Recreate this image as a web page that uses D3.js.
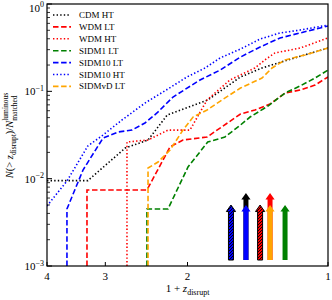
<!DOCTYPE html>
<meta charset="utf-8">
<script src="https://d3js.org/d3.v7.min.js"></script>
<style>
  body { margin: 0; background: #fff; }
  text { font-family: "Liberation Serif", "DejaVu Serif", serif; }
</style>
<body>
<div id="chart"></div>
<script>
// values: x is 1+z_disrupt, y is the cumulative fraction
var zCDMHT = [4, 3.27, 2.72, 2.43, 2.21, 1.81, 1.54, 1.385, 1.218, 1.0];
var nCDMHT = [0.0095, 0.0095, 0.0224, 0.0277, 0.0536, 0.0797, 0.146, 0.185, 0.229, 0.313];

var zWDMLT = [3.284, 3.284, 2.443, 2.18, 2.045, 1.816, 1.54, 1.434, 1.331, 1.236, 1.148, 1.066, 1.0];
var nWDMLT = [0.001, 0.00741, 0.00741, 0.0231, 0.0277, 0.0300, 0.0549, 0.0611, 0.0716, 0.0957, 0.1035, 0.118, 0.146];

var zWDMHT = [2.696, 2.696, 2.43, 2.202, 1.976, 1.816, 1.622, 1.434, 1.365, 1.299, 1.148, 1.0];
var nWDMHT = [0.001, 0.0263, 0.0277, 0.036, 0.036, 0.0797, 0.135, 0.185, 0.229, 0.275, 0.313, 0.408];

var zSIDM1LT = [2.443, 2.443, 2.202, 1.995, 1.81, 1.663, 1.54, 1.469, 1.345, 1.236, 1.148, 1.066, 1.0];
var nSIDM1LT = [0.001, 0.0045, 0.0045, 0.0136, 0.0263, 0.0300, 0.0411, 0.0508, 0.0679, 0.0957, 0.115, 0.142, 0.175];

var zSIDM10LT = [3.625, 3.625, 3.349, 3.034, 2.818, 2.630, 2.467, 2.325, 2.148, 1.880, 1.703, 1.54, 1.398, 1.267, 1.148, 1.0];
var nSIDM10LT = [0.001, 0.0045, 0.01256, 0.0292, 0.0342, 0.036, 0.0434, 0.0565, 0.0861, 0.135, 0.175, 0.247, 0.322, 0.408, 0.466, 0.560];

var zSIDM10HT = [4, 3.625, 3.27, 3.034, 2.763, 2.467, 2.257, 2.005, 1.834, 1.703, 1.54, 1.398, 1.267, 1.148, 1.0];
var nSIDM10HT = [0.00487, 0.0094, 0.0237, 0.0316, 0.047, 0.0734, 0.0982, 0.146, 0.185, 0.241, 0.305, 0.397, 0.466, 0.503, 0.574];

var zSIDMvDLT = [2.43, 2.43, 2.313, 2.18, 2.045, 1.946, 1.816, 1.687, 1.54, 1.385, 1.318, 1.236, 1.120, 1.0];
var nSIDMvDLT = [0.001, 0.01324, 0.0155, 0.0213, 0.036, 0.0508, 0.0611, 0.0797, 0.109, 0.142, 0.185, 0.229, 0.261, 0.313];

var seriesNames = ["CDM HT", "WDM LT", "WDM HT", "SIDM1 LT", "SIDM10 LT", "SIDM10 HT", "SIDMvD LT"];
var seriesZ = [zCDMHT, zWDMLT, zWDMHT, zSIDM1LT, zSIDM10LT, zSIDM10HT, zSIDMvDLT];
var seriesN = [nCDMHT, nWDMLT, nWDMHT, nSIDM1LT, nSIDM10LT, nSIDM10HT, nSIDMvDLT];
var seriesColor = ["#000000", "#ff0000", "#ff0000", "#008000", "#0000ff", "#0000ff", "#ffa500"];
var seriesDotted = [true, false, true, false, false, true, false];

// arrows in the lower right (drawn back to front)
var arrowZ = [1.614, 1.499, 1.499, 1.398, 1.331, 1.331, 1.236];
var arrowTop = [0.00499, 0.00686, 0.00499, 0.00499, 0.00686, 0.00499, 0.00499];
var arrowBottom = 0.00117;
var arrowColor = ["#0000ff", "#000000", "#0000ff", "#ff0000", "#ff0000", "#ffa500", "#008000"];
var arrowHatch = [true, false, false, true, false, false, false];

var xTicks = [4, 3, 2, 1];
var yTicks = [1e-3, 1e-2, 1e-1, 1];
var yExp = ["\u22123", "\u22122", "\u22121", "0"];

var width = 332, height = 300;
var margin = { top: 4, right: 4, bottom: 34, left: 47 };
var plotW = width - margin.left - margin.right;   // 281
var plotH = height - margin.top - margin.bottom;  // 262

var svg = d3.select("#chart").append("svg")
  .attr("width", width)
  .attr("height", height);

var x = d3.scaleLog().domain([4, 1]).range([margin.left, margin.left + plotW]);
var y = d3.scaleLog().domain([1e-3, 1]).range([margin.top + plotH, margin.top]);

var defs = svg.append("defs");
defs.append("clipPath").attr("id", "plotclip")
  .append("rect")
  .attr("x", margin.left).attr("y", margin.top)
  .attr("width", plotW).attr("height", plotH);

// hatch patterns for the arrows
["#0000ff", "#ff0000"].forEach(function (c, i) {
  var p = defs.append("pattern")
    .attr("id", "hatch" + i)
    .attr("patternUnits", "userSpaceOnUse")
    .attr("width", 3).attr("height", 3);
  p.append("rect").attr("width", 3).attr("height", 3).attr("fill", c);
  p.append("path")
    .attr("d", "M-1,1 L1,-1 M0,3 L3,0 M2,4 L4,2")
    .attr("stroke", "#000").attr("stroke-width", 0.9);
});

// curves
var line = d3.line()
  .x(function (d) { return x(d[0]); })
  .y(function (d) { return y(d[1]); });

var curves = svg.append("g").attr("clip-path", "url(#plotclip)");
seriesNames.forEach(function (name, i) {
  var pts = seriesZ[i].map(function (z, j) { return [z, seriesN[i][j]]; });
  curves.append("path")
    .attr("d", line(pts))
    .attr("fill", "none")
    .attr("stroke", seriesColor[i])
    .attr("stroke-width", 1.6)
    .attr("stroke-dasharray", seriesDotted[i] ? "1.4,2.2" : "5.5,2.6");
});

// arrows
var shaftHalf = 2.5, headHalf = 4.6, headLen = 6.5;
arrowZ.forEach(function (z, i) {
  var cx = x(z), ty = y(arrowTop[i]), by = y(arrowBottom);
  var d = "M" + (cx - shaftHalf) + "," + by +
    " L" + (cx - shaftHalf) + "," + (ty + headLen) +
    " L" + (cx - headHalf) + "," + (ty + headLen) +
    " L" + cx + "," + ty +
    " L" + (cx + headHalf) + "," + (ty + headLen) +
    " L" + (cx + shaftHalf) + "," + (ty + headLen) +
    " L" + (cx + shaftHalf) + "," + by + " Z";
  svg.append("path")
    .attr("d", d)
    .attr("fill", arrowHatch[i] ? "url(#hatch" + (arrowColor[i] === "#0000ff" ? 0 : 1) + ")" : arrowColor[i])
    .attr("stroke", arrowHatch[i] ? "#000" : "none")
    .attr("stroke-width", 1);
});

// frame
svg.append("rect")
  .attr("x", margin.left).attr("y", margin.top)
  .attr("width", plotW).attr("height", plotH)
  .attr("fill", "none").attr("stroke", "#000").attr("stroke-width", 1.2);

// y ticks (inside, left only)
var yAxisG = svg.append("g");
for (var e = -3; e < 0; e++) {
  for (var m = 2; m <= 9; m++) {
    var v = m * Math.pow(10, e);
    yAxisG.append("line")
      .attr("x1", margin.left).attr("x2", margin.left + 3)
      .attr("y1", y(v)).attr("y2", y(v))
      .attr("stroke", "#000").attr("stroke-width", 0.8);
  }
}
yTicks.forEach(function (v, i) {
  yAxisG.append("line")
    .attr("x1", margin.left).attr("x2", margin.left + 5)
    .attr("y1", y(v)).attr("y2", y(v))
    .attr("stroke", "#000").attr("stroke-width", 1);
  var t = yAxisG.append("text")
    .attr("x", margin.left - 3)
    .attr("y", Math.max(y(v) + 4, 11.5))
    .attr("text-anchor", "end")
    .attr("font-size", 11);
  t.append("tspan").text("10");
  t.append("tspan").attr("dy", -4.5).attr("font-size", 8).text(yExp[i]);
});

// x ticks (inside, bottom only)
xTicks.forEach(function (v) {
  svg.append("line")
    .attr("x1", x(v)).attr("x2", x(v))
    .attr("y1", margin.top + plotH).attr("y2", margin.top + plotH - 4)
    .attr("stroke", "#000").attr("stroke-width", 1);
  svg.append("text")
    .attr("x", x(v))
    .attr("y", margin.top + plotH + 14)
    .attr("text-anchor", "middle")
    .attr("font-size", 11)
    .text(v);
});

// x label
var xl = svg.append("text")
  .attr("x", x(2))
  .attr("y", 292)
  .attr("text-anchor", "middle")
  .attr("font-size", 11);
xl.append("tspan").text("1 + ");
xl.append("tspan").attr("font-style", "italic").text("z");
xl.append("tspan").attr("dy", 2.5).attr("font-size", 8).text("disrupt");

// y label (rotated)
var yl = svg.append("g")
  .attr("transform", "translate(13," + (margin.top + plotH / 2) + ") rotate(-90)");
var ylt = yl.append("text").attr("font-size", 10.5);
ylt.append("tspan").attr("font-style", "italic").text("N");
ylt.append("tspan").text("(> ");
ylt.append("tspan").attr("font-style", "italic").text("z");
ylt.append("tspan").attr("dy", 2.5).attr("font-size", 7.5).text("disrupt");
ylt.append("tspan").attr("dy", -2.5).text(")/");
ylt.append("tspan").attr("font-style", "italic").text("N");
var baseLen = ylt.node().getComputedTextLength();
ylt.append("tspan").attr("dy", -5).attr("font-size", 7.5).text("luminous");
ylt.append("tspan").attr("x", baseLen).attr("dy", 8.5).attr("font-size", 7.5).text("matched");
var totalLen = ylt.node().getBBox().width;
ylt.attr("x", 0).attr("transform", "translate(" + (-totalLen / 2) + ",0)");

// legend
var legend = svg.append("g");
seriesNames.forEach(function (name, i) {
  var ly = 15 + i * 11.9;
  legend.append("line")
    .attr("x1", 53).attr("x2", 71)
    .attr("y1", ly).attr("y2", ly)
    .attr("stroke", seriesColor[i])
    .attr("stroke-width", 1.6)
    .attr("stroke-dasharray", seriesDotted[i] ? "1.4,2.2" : "5.5,2.6");
  legend.append("text")
    .attr("x", 79).attr("y", ly + 3)
    .attr("font-size", 9)
    .text(name);
});
</script>
</body>
